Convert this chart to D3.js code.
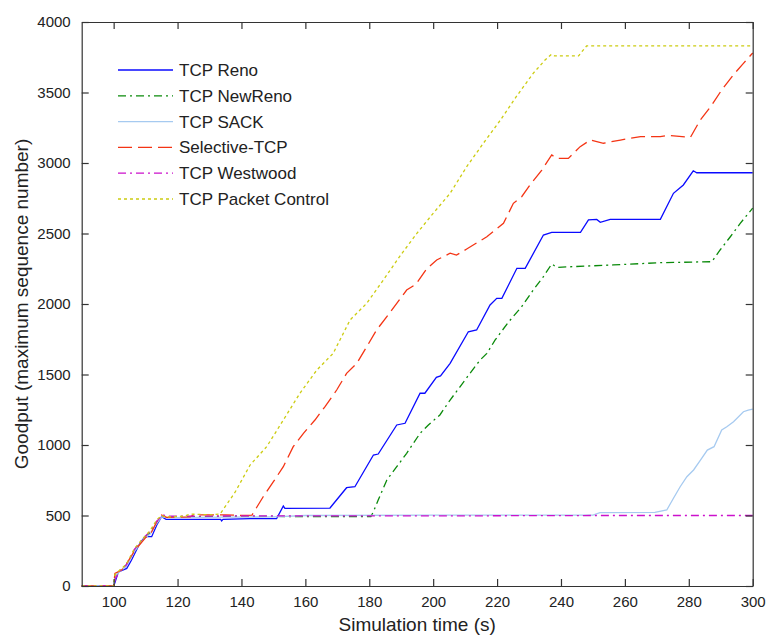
<!DOCTYPE html>
<html>
<head>
<meta charset="utf-8">
<script src="https://cdn.jsdelivr.net/npm/d3@7"></script>
<style>
  body { margin: 0; background: #fff; }
  svg { display: block; font-family: 'Liberation Sans', Arial, sans-serif; }
</style>
</head>
<body>
<div id="chart"></div>
<script>
const xTicks = [100, 120, 140, 160, 180, 200, 220, 240, 260, 280, 300]
const yTicks = [0, 500, 1000, 1500, 2000, 2500, 3000, 3500, 4000]

const seriesNames = ['TCP Reno', 'TCP NewReno', 'TCP SACK', 'Selective-TCP', 'TCP Westwood', 'TCP Packet Control']

const reno = [[90, 0], [100, 0], [100.2, 10], [101.5, 100], [104.1, 125], [105.6, 184], [108.2, 303], [109.8, 350], [111.9, 350], [113.5, 433], [115, 492], [116.4, 473], [133.5, 473], [133.8, 462], [134.2, 473], [142.7, 478], [151, 478], [153.1, 567], [153.6, 551], [167.7, 553], [172.9, 697], [175.5, 704], [181.3, 929], [182.8, 936], [188.6, 1142], [191.2, 1154], [195.9, 1367], [197.4, 1367], [201, 1480], [202.3, 1490], [205.3, 1579], [211, 1803], [213.6, 1816], [217.8, 1993], [219.9, 2040], [221.5, 2040], [226.2, 2253], [228.8, 2253], [234.5, 2489], [237.1, 2508], [246.1, 2508], [248.6, 2596], [251.2, 2600], [252.3, 2579], [255.4, 2600], [271.1, 2600], [275.2, 2785], [278.3, 2844], [281.4, 2945], [282.5, 2931], [300, 2931]]

const newReno = [[90, 0], [100, 0], [100.4, 60], [102, 110], [104, 150], [106.5, 250], [109.5, 340], [111.5, 380], [113.5, 450], [115, 498], [116.5, 488], [125, 492], [140, 495], [160, 492], [180.5, 492], [181.3, 527], [182.8, 610], [185.5, 752], [188.6, 846], [191.7, 941], [195.9, 1083], [198.5, 1142], [202.1, 1213], [205.3, 1319], [208.4, 1413], [211.5, 1508], [214.7, 1603], [216.8, 1650], [219.4, 1745], [223.5, 1870], [227.7, 1981], [231.3, 2099], [234.5, 2194], [237.1, 2284], [238.7, 2260], [256.4, 2277], [271.1, 2293], [287.2, 2300], [289.8, 2383], [293, 2477], [296.1, 2572], [300, 2680]]

const sack = [[90, 0], [100, 0], [100.5, 70], [102, 105], [104, 140], [106.5, 245], [109.5, 335], [111.5, 370], [113.5, 445], [115, 490], [116.5, 485], [135, 488], [150, 490], [160, 500], [200, 502], [250, 503], [252.2, 520], [269.4, 522], [273.1, 539], [275.2, 622], [277.3, 704], [279.4, 775], [281.5, 823], [283.7, 894], [285.8, 964], [287.9, 988], [290.3, 1106], [291.9, 1130], [294, 1165], [297.1, 1236], [298.6, 1248], [300, 1255]]

const selective = [[90, 0], [100, 0], [100.4, 90], [102.5, 113], [104.1, 161], [106.7, 255], [109.8, 338], [111.9, 385], [113.5, 456], [115, 503], [116.6, 487], [124, 490], [125, 505], [135, 505], [140, 500], [143.3, 503], [146.8, 633], [150, 740], [153.1, 846], [156.2, 988], [159.4, 1083], [163, 1177], [166.1, 1271], [169.8, 1390], [172.9, 1508], [176.1, 1579], [179.2, 1697], [182.3, 1816], [185.5, 1910], [188.6, 2005], [191.7, 2099], [194.6, 2140], [198, 2250], [201.1, 2312], [205.3, 2360], [207.3, 2347], [210.5, 2390], [216.8, 2477], [222, 2572], [225.1, 2714], [227.7, 2761], [230.3, 2844], [234, 2950], [237.1, 3057], [238.7, 3033], [242.3, 3033], [246, 3116], [249.2, 3163], [253.3, 3140], [258.6, 3163], [264.9, 3187], [271.1, 3187], [273.2, 3196], [280.5, 3182], [283.6, 3305], [287.2, 3411], [290.3, 3518], [293.9, 3624], [297.1, 3707], [300, 3780]]

const westwood = [[90, 0], [100, 0], [100.5, 50], [102, 110], [104, 150], [106.5, 260], [109.5, 345], [111.5, 390], [113.5, 460], [115.5, 505], [116.5, 495], [140, 497], [200, 497], [250, 500], [300, 500]]

const packetControl = [[90, 0], [100, 0], [100.4, 80], [102, 115], [104, 155], [106.5, 265], [109.5, 345], [111.5, 395], [113.5, 470], [115, 500], [116.5, 490], [122, 495], [124, 510], [130, 505], [133.3, 510], [138, 665], [142.7, 858], [147.9, 988], [153.1, 1177], [158.3, 1367], [163.6, 1532], [168.7, 1650], [174, 1887], [179.2, 2005], [184.4, 2170], [189.6, 2340], [194.9, 2501], [200, 2643], [205.3, 2785], [210.5, 2974], [215.7, 3140], [220.9, 3300], [226, 3470], [231.3, 3636], [235, 3730], [237, 3770], [238, 3760], [245.5, 3760], [248, 3830], [300, 3830]]

const seriesData = [reno, newReno, sack, selective, westwood, packetControl]
const seriesColors = ['#0a0aff', '#0a8a0a', '#a6caf0', '#f43414', '#cc11cc', '#cccc11']
const seriesDashes = [null, '8,4,2,4', null, '14,6', '8,4,2,4', '3,3']

const dims = { width: 768, height: 635 }
const margin = { top: 22, right: 15.3, bottom: 49, left: 81.7 }

const x = d3.scaleLinear().domain([90, 300]).range([margin.left, dims.width - margin.right])
const y = d3.scaleLinear().domain([0, 4000]).range([dims.height - margin.bottom, margin.top])

const svg = d3.select('#chart')
  .append('svg')
  .attr('width', dims.width)
  .attr('height', dims.height)

const line = d3.line()
  .x(d => x(d[0]))
  .y(d => y(d[1]))

svg.append('g')
  .selectAll('path')
  .data(seriesData.map((d, i) => ({ values: d, i })))
  .join('path')
  .attr('fill', 'none')
  .attr('stroke', d => seriesColors[d.i])
  .attr('stroke-width', 1.3)
  .attr('stroke-dasharray', d => seriesDashes[d.i])
  .attr('d', d => line(d.values))

// axes: ticks inside, mirrored on top/right (box on)
const tickLen = 7
const axisColor = '#333'

svg.append('g')
  .attr('transform', `translate(0,${y(0)})`)
  .call(d3.axisBottom(x).tickValues(xTicks).tickSizeInner(-tickLen).tickSizeOuter(0).tickPadding(10).tickFormat(d3.format('d')))
svg.append('g')
  .attr('transform', `translate(0,${y(4000)})`)
  .call(d3.axisTop(x).tickValues(xTicks).tickSizeInner(-tickLen).tickSizeOuter(0).tickFormat(''))
svg.append('g')
  .attr('transform', `translate(${x(90)},0)`)
  .call(d3.axisLeft(y).tickValues(yTicks).tickSizeInner(-tickLen).tickSizeOuter(0).tickPadding(11).tickFormat(d3.format('d')))
svg.append('g')
  .attr('transform', `translate(${x(300)},0)`)
  .call(d3.axisRight(y).tickValues(yTicks).tickSizeInner(-tickLen).tickSizeOuter(0).tickFormat(''))

svg.selectAll('.domain').attr('stroke', axisColor).attr('stroke-width', 1.2)
svg.selectAll('.tick line').attr('stroke', axisColor).attr('stroke-width', 1.2)
svg.selectAll('.tick text')
  .attr('fill', '#222')
  .style('font-family', "'Liberation Sans', Arial, sans-serif")
  .style('font-size', '15px')

svg.append('text')
  .attr('x', (x(90) + x(300)) / 2)
  .attr('y', 631)
  .attr('text-anchor', 'middle')
  .attr('fill', '#222')
  .style('font-size', '19px')
  .text('Simulation time (s)')

svg.append('text')
  .attr('transform', `translate(28,${(y(0) + y(4000)) / 2}) rotate(-90)`)
  .attr('text-anchor', 'middle')
  .attr('fill', '#222')
  .style('font-size', '19px')
  .text('Goodput (maximum sequence number)')

// legend, no box
const legend = svg.append('g')
  .selectAll('g')
  .data(seriesNames)
  .join('g')
  .attr('transform', (d, i) => `translate(118,${70 + i * 25.8})`)

legend.append('line')
  .attr('x1', 0)
  .attr('x2', 55)
  .attr('stroke', (d, i) => seriesColors[i])
  .attr('stroke-width', 1.3)
  .attr('stroke-dasharray', (d, i) => seriesDashes[i])

legend.append('text')
  .attr('x', 61)
  .attr('dy', '0.35em')
  .attr('fill', '#222')
  .style('font-size', '17px')
  .text(d => d)
</script>
</body>
</html>
